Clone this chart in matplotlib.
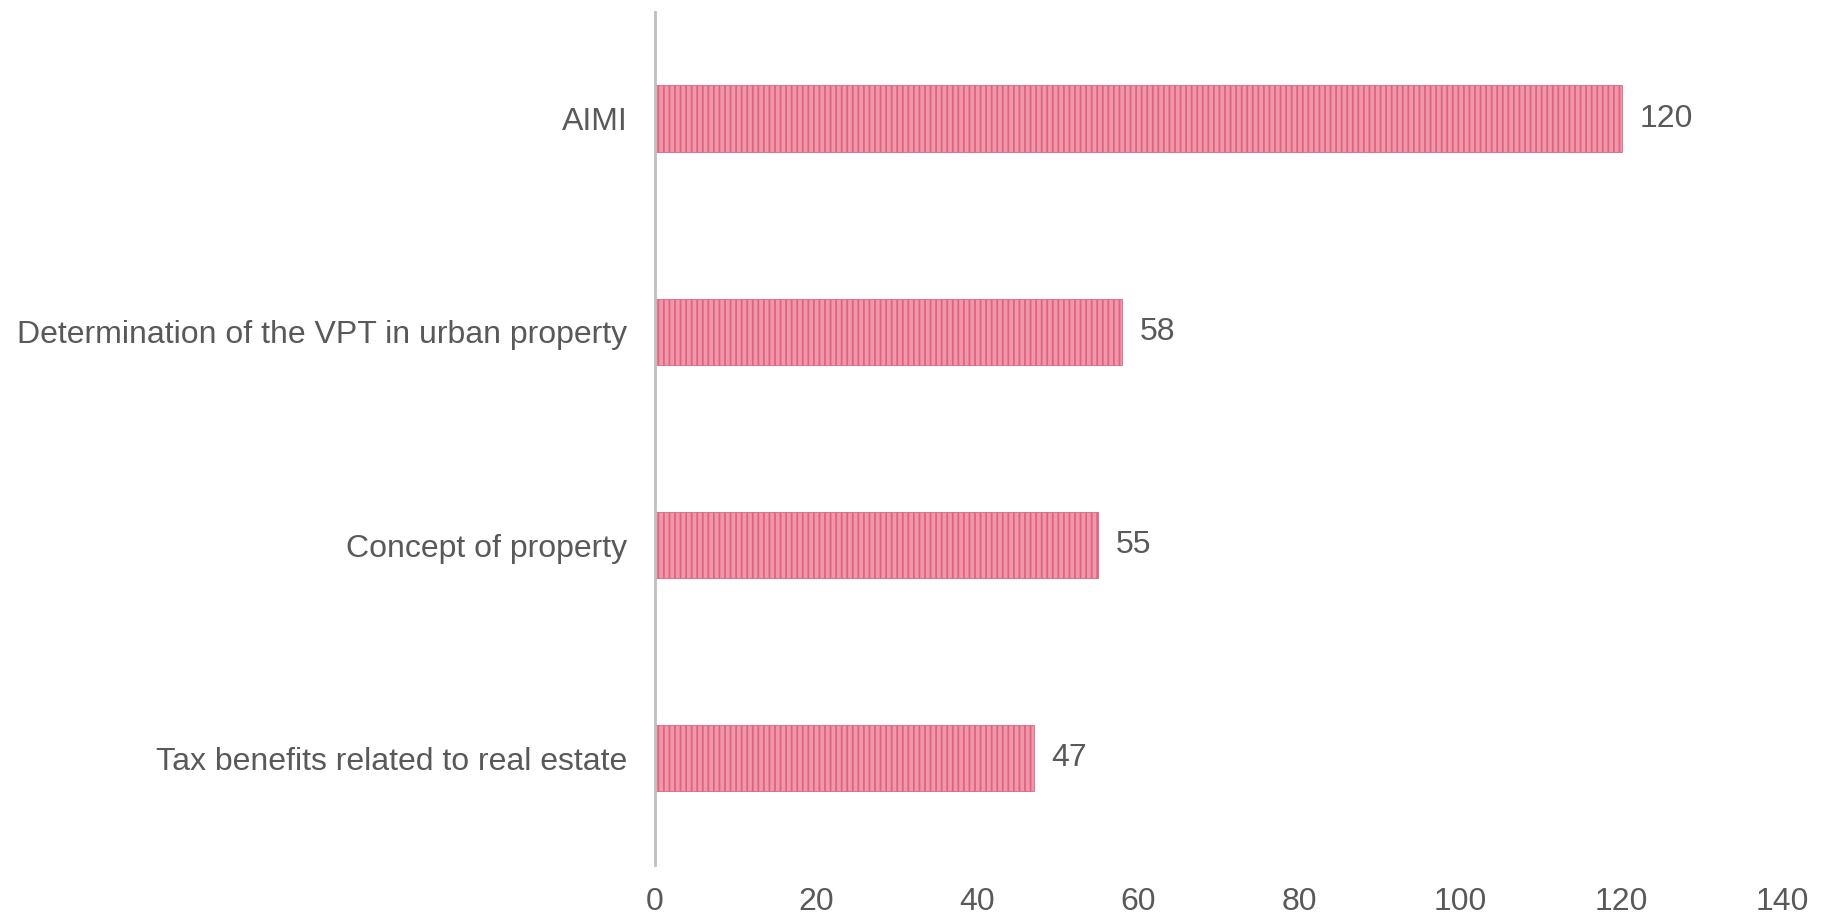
import matplotlib.pyplot as plt

# topics and number of occurrences
topics = [
    "AIMI",
    "Determination of the VPT in urban property",
    "Concept of property",
    "Tax benefits related to real estate",
]
counts = [120, 58, 55, 47]
x_ticks = [0, 20, 40, 60, 80, 100, 120, 140]

plt.rcParams['font.family'] = ['Liberation Sans', 'DejaVu Sans']
plt.rcParams['hatch.linewidth'] = 1.3
text_color = "#595959"

fig = plt.figure(figsize=(18.21, 9.17), dpi=100)
ax = fig.add_axes([0.3597, 0.0567, 0.6193, 0.9303])

ypos = list(range(len(topics)))
bars = ax.barh(ypos, counts, height=0.31, color="#F296AA",
               edgecolor="#DC6580", linewidth=0.6, hatch="|||")

for y, v in zip(ypos, counts):
    ax.text(v + 2.2, y, str(v), va="center", ha="left",
            fontsize=23, color=text_color)

ax.set_yticks(ypos)
ax.set_yticklabels(topics, fontsize=23, color=text_color)
ax.set_ylim(len(topics) - 0.5, -0.5)
ax.set_xlim(0, 140)
ax.set_xticks(x_ticks)
ax.set_xticklabels([str(t) for t in x_ticks], fontsize=23, color=text_color)

ax.tick_params(axis="y", length=0, pad=20)
ax.tick_params(axis="x", length=0, pad=16)
for side in ["top", "right", "bottom"]:
    ax.spines[side].set_visible(False)
ax.spines["left"].set_color("#BFBFBF")
ax.spines["left"].set_linewidth(2)

fig.savefig("out.png", dpi=100)
